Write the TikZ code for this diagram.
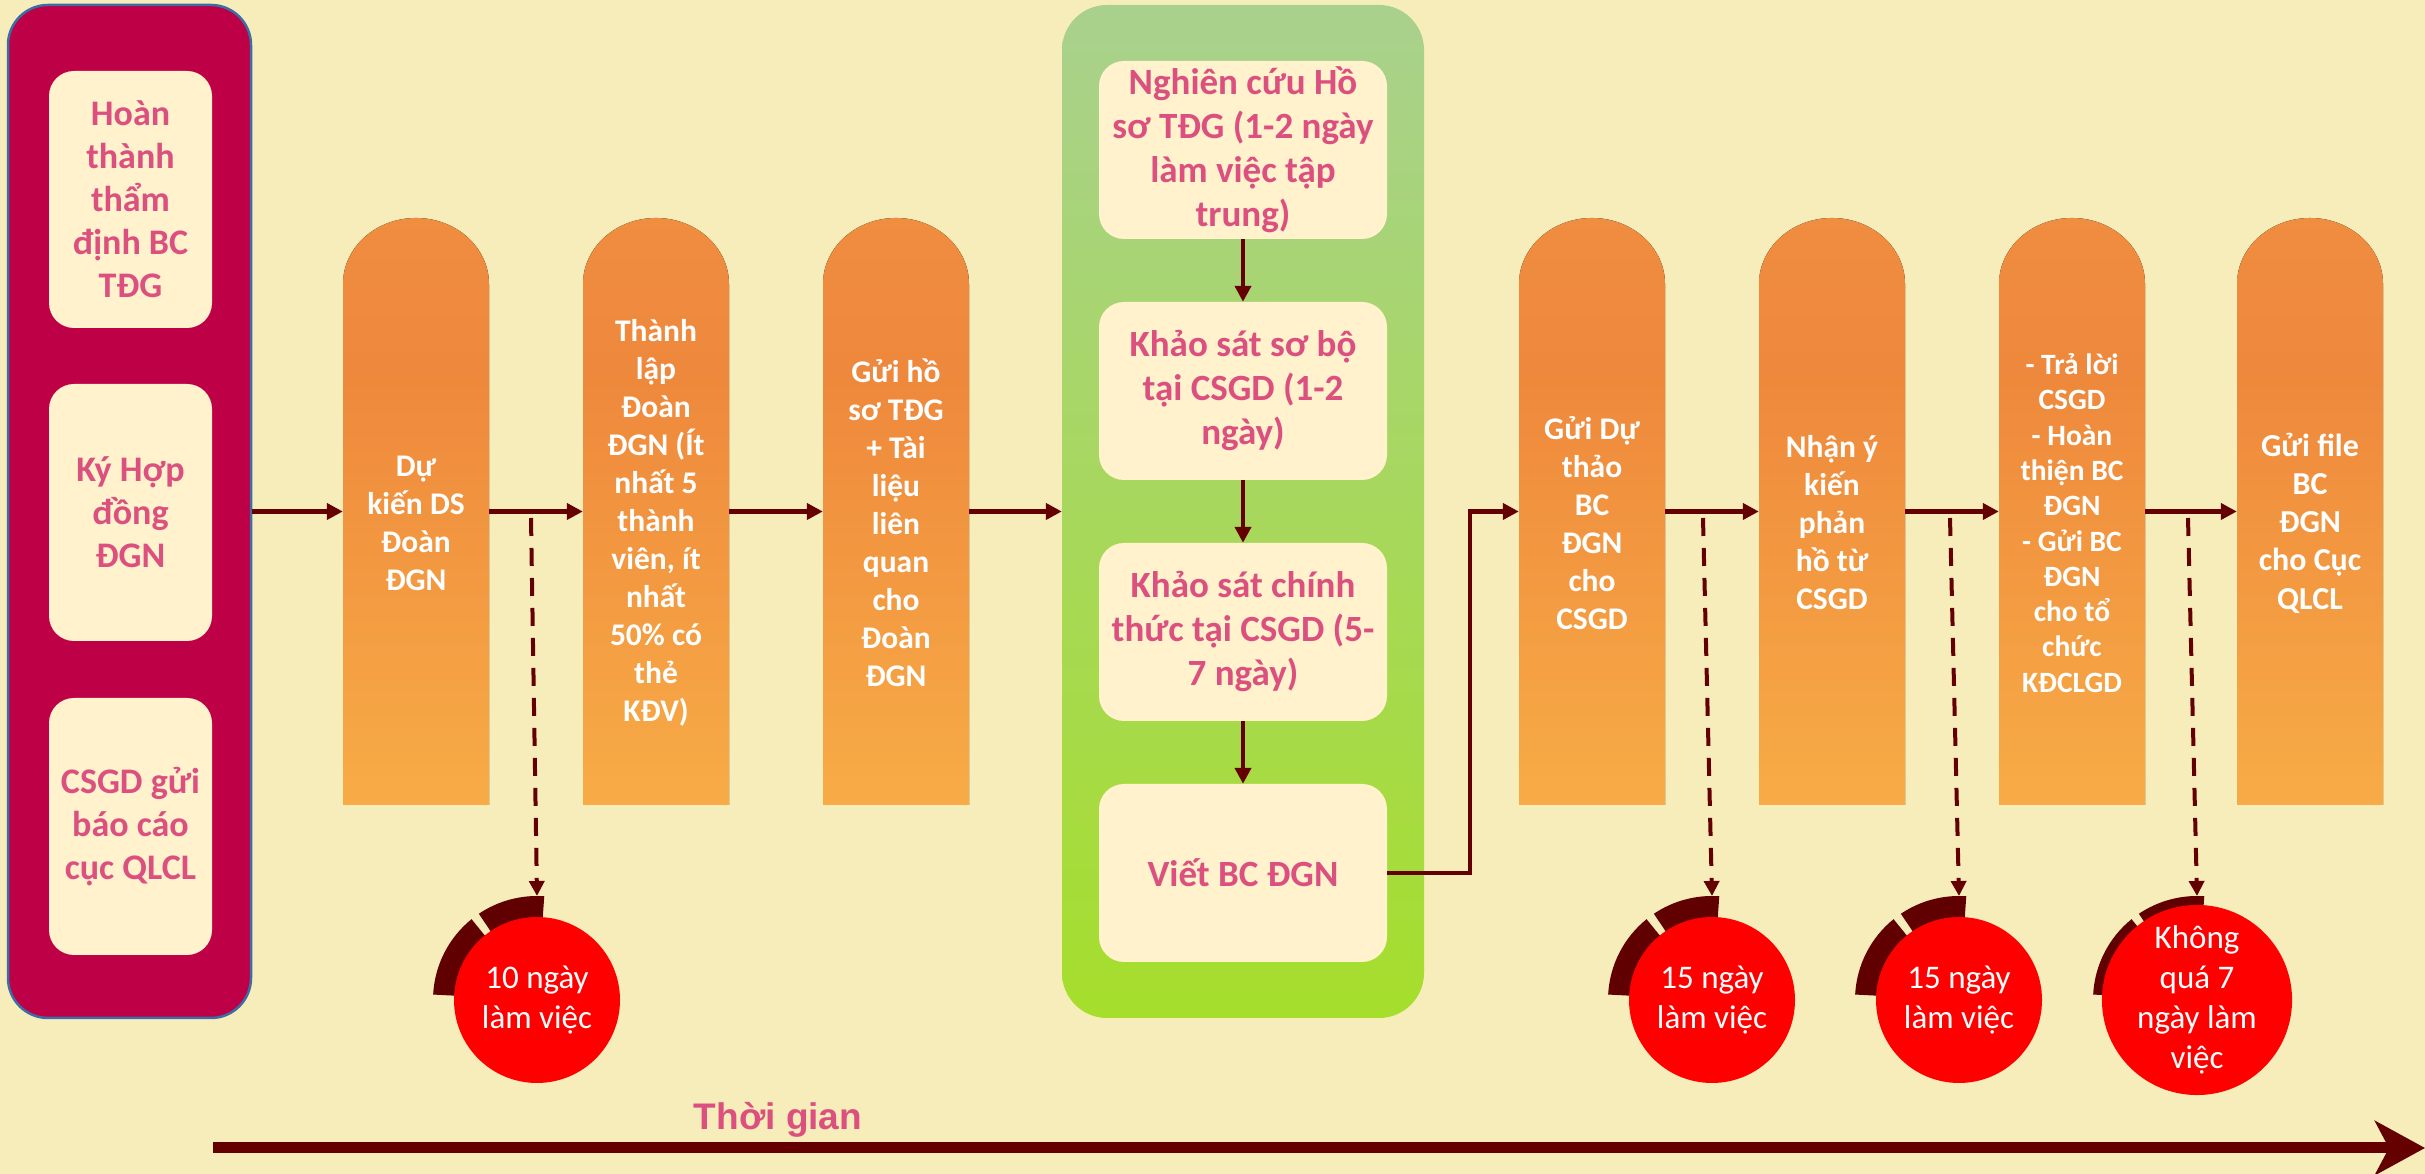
\documentclass[tikz,border=0pt]{standalone}
\usepackage{fontspec}
\setmainfont{Carlito}
\newfontfamily\arialfont{Liberation Sans}
\usetikzlibrary{arrows.meta,calc}

\definecolor{bg}{HTML}{F7EDBA}
\definecolor{lpc}{HTML}{BE0046}
\definecolor{lpborder}{HTML}{3A6EA5}
\definecolor{cream}{HTML}{FFF2CC}
\definecolor{pinktxt}{HTML}{DC5080}
\definecolor{arrowc}{HTML}{650000}
\definecolor{darkc}{HTML}{600000}
\definecolor{redc}{HTML}{FF0000}
\definecolor{gtop}{HTML}{A9D18E}
\definecolor{gbot}{HTML}{A6DE2C}
\definecolor{pbot}{HTML}{FFBE48}
\definecolor{pmida}{HTML}{F7AA46}
\definecolor{pmidb}{HTML}{EE883C}
\definecolor{ptop}{HTML}{F29648}

\pgfdeclareverticalshading{pillarshade}{100bp}{color(0bp)=(pbot); color(27bp)=(pmida); color(62bp)=(pmidb); color(100bp)=(ptop)}

\tikzset{
  lpanel/.style={rectangle, rounded corners=40pt, fill=lpc, draw=lpborder, line width=2.5pt,
    minimum width=243pt, minimum height=1013pt, inner sep=0pt},
  lbox/.style={rectangle, rounded corners=25pt, fill=cream, text=pinktxt,
    minimum width=163pt, minimum height=257pt, inner sep=0pt, align=center,
    font=\bfseries\fontsize{36}{43}\selectfont},
  gpanel/.style={rectangle, rounded corners=45pt, top color=gtop, bottom color=gbot,
    minimum width=362pt, minimum height=1013pt, inner sep=0pt},
  gbox/.style={rectangle, rounded corners=25pt, fill=cream, text=pinktxt,
    minimum width=288pt, minimum height=178pt, inner sep=0pt, align=center,
    font=\bfseries\fontsize{37}{44}\selectfont},
  pbox/.style={rectangle, minimum width=146pt, minimum height=587pt, inner sep=0pt},
  ptext/.style={text=white, align=center, inner sep=0pt,
    font=\bfseries\fontsize{31.5}{38}\selectfont},
  circ/.style={circle, fill=redc, minimum size=166pt, inner sep=0pt, text=white,
    align=center, font=\fontsize{33}{40}\selectfont},
  arr/.style={draw=arrowc, line width=4.5pt, -{Triangle[length=16pt,width=16pt]}},
  dasharr/.style={draw=arrowc, line width=4pt, dash pattern=on 18pt off 12pt,
    -{Triangle[length=15pt,width=15pt]}},
  timearr/.style={draw=arrowc, line width=11pt, -{Stealth[length=50pt,width=54pt,inset=14pt]}},
  timelabel/.style={text=pinktxt, inner sep=0pt, font=\arialfont\bfseries\fontsize{37}{44}\selectfont}
}

\newcommand\pillar[4][]{%
  \fill[shading=pillarshade] (#3,369) -- (#3,890)
     arc[start angle=180, end angle=0, x radius=73, y radius=66]
     -- (#3+146,369) -- cycle;
  \node[pbox] (#2) at (#3+73,662.5) {};
  \node[ptext,#1] (#2t) at (#3+73,651) {#4};
}

\newcommand\timer[4]{%
  \coordinate (#1c) at (#2,174);
  \fill[darkc] ([shift={(86:104)}]#1c) arc[start angle=86, end angle=124, radius=104]
     -- ([shift={(124:78)}]#1c) arc[start angle=124, end angle=86, radius=78] -- cycle;
  \fill[darkc] ([shift={(129:104)}]#1c) arc[start angle=129, end angle=177, radius=104]
     -- ([shift={(177:78)}]#1c) arc[start angle=177, end angle=129, radius=78] -- cycle;
  \node[circ] (#1) at (#1c) {#4};
  \coordinate (#1s) at (#3,656);
  \coordinate (#1e) at (#2,278);
  \draw[dasharr] (#1s) -- (#1e);
}

\begin{document}
\begin{tikzpicture}[x=1pt,y=1pt]
\fill[bg] (0,0) rectangle (2425,1174);
\useasboundingbox (0,0) rectangle (2425,1174);

% left panel
\node[lpanel] (lp) at (129.5,662.5) {};
\node[lbox] (l1) at (130.5,974.5) {Hoàn\\thành\\thẩm\\định BC\\TĐG};
\node[lbox] (l2) at (130.5,661.5) {Ký Hợp\\đồng\\ĐGN};
\node[lbox] (l3) at (130.5,347.5) {CSGD gửi\\báo cáo\\cục QLCL};

% pillars
\pillar{p1}{343}{Dự\\kiến DS\\Đoàn\\ĐGN}
\pillar{p2}{583}{Thành\\lập\\Đoàn\\ĐGN (Ít\\nhất 5\\thành\\viên, ít\\nhất\\50\% có\\thẻ\\KĐV)}
\pillar{p3}{823}{Gửi hồ\\sơ TĐG\\+ Tài\\liệu\\liên\\quan\\cho\\Đoàn\\ĐGN}
\pillar{p4}{1519}{Gửi Dự\\thảo\\BC\\ĐGN\\cho\\CSGD}
\pillar{p5}{1759}{Nhận ý\\kiến\\phản\\hồ từ\\CSGD}
\pillar[font=\bfseries\fontsize{29.5}{35.3}\selectfont]{p6}{1999}{- Trả lời\\CSGD\\- Hoàn\\thiện BC\\ĐGN\\- Gửi BC\\ĐGN\\cho tổ\\chức\\KĐCLGD}
\pillar[font=\bfseries\fontsize{32}{38.3}\selectfont]{p7}{2237}{Gửi file\\BC\\ĐGN\\cho Cục\\QLCL}

% green panel
\node[gpanel] (gp) at (1243,662.5) {};
\node[gbox] (b1) at (1243,1024) {Nghiên cứu Hồ\\sơ TĐG (1-2 ngày\\làm việc tập\\trung)};
\node[gbox] (b2) at (1243,783) {Khảo sát sơ bộ\\tại CSGD (1-2\\ngày)};
\node[gbox] (b3) at (1243,542) {Khảo sát chính\\thức tại CSGD (5-\\7 ngày)};
\node[gbox] (b4) at (1243,301) {Viết BC ĐGN};

% main arrows
\draw[arr] (lp.east) -- (p1.west);
\draw[arr] (p1.east) -- (p2.west);
\draw[arr] (p2.east) -- (p3.west);
\draw[arr] (p3.east) -- (gp.west);
\draw[arr] (b1.south) -- (b2.north);
\draw[arr] (b2.south) -- (b3.north);
\draw[arr] (b3.south) -- (b4.north);
\coordinate (bend) at (1470,301);
\draw[arr] (b4.east) -- (bend) |- (p4.west);
\draw[arr] (p4.east) -- (p5.west);
\draw[arr] (p5.east) -- (p6.west);
\draw[arr] (p6.east) -- (p7.west);

% timers
\timer{c1}{537}{531}{10 ngày\\làm việc}
\timer{c2}{1712}{1703}{15 ngày\\làm việc}
\timer{c3}{1959}{1950}{15 ngày\\làm việc}
\timer{c4}{2197}{2188}{Không\\quá 7\\ngày làm\\việc}

% time axis
\coordinate (t0) at (213,26);
\coordinate (t1) at (2425,26);
\draw[timearr] (t0) -- (t1);
\node[timelabel, anchor=base] (tl) at (778,44) {Thời gian};
\end{tikzpicture}
\end{document}
